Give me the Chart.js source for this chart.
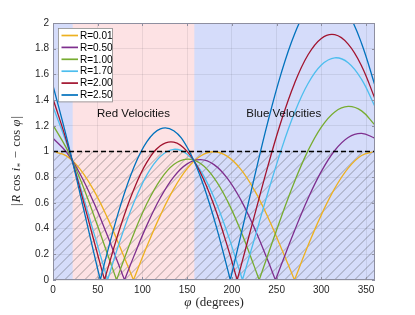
<!DOCTYPE html>
<html>
<head>
<meta charset="utf-8">
<script src="https://cdn.jsdelivr.net/npm/chart.js@4.4.0/dist/chart.umd.min.js"></script>
<style>
  html, body { margin: 0; padding: 0; background: #fff; }
  #wrap { width: 415px; height: 315px; position: relative; }
</style>
</head>
<body>
<div id="wrap"><canvas id="chart" width="415" height="315"></canvas></div>
<script>
const phi = [0, 15, 30, 45, 60, 75, 90, 105, 120, 135, 150, 165, 180,
             195, 210, 225, 240, 255, 270, 285, 300, 315, 330, 345, 360];

const seriesLabels = ['R=0.01', 'R=0.50', 'R=1.00', 'R=1.70', 'R=2.00', 'R=2.50'];
const seriesColors = ['#EDB120', '#7E2F8E', '#77AC30', '#4DBEEE', '#A2142F', '#0072BD'];

// |R cos i - cos phi| at the angles above
const yR001 = [1.000, 0.966, 0.865, 0.705, 0.497, 0.255, 0.000, 0.262, 0.503, 0.709, 0.867, 0.965, 0.998,
               0.962, 0.861, 0.701, 0.493, 0.251, 0.000, 0.266, 0.507, 0.713, 0.871, 0.969, 1.000];
const yR050 = [1.103, 0.996, 0.829, 0.612, 0.360, 0.091, 0.178, 0.427, 0.640, 0.803, 0.904, 0.936, 0.898,
               0.791, 0.624, 0.407, 0.155, 0.114, 0.383, 0.632, 0.845, 1.008, 1.109, 1.141, 1.103];
const yR100 = [1.205, 1.026, 0.791, 0.516, 0.220, 0.077, 0.355, 0.595, 0.780, 0.898, 0.941, 0.906, 0.795,
               0.616, 0.381, 0.106, 0.190, 0.487, 0.765, 1.005, 1.190, 1.308, 1.351, 1.316, 1.205];
const yR170 = [1.349, 1.068, 0.739, 0.382, 0.024, 0.307, 0.595, 0.818, 0.961, 1.017, 0.979, 0.851, 0.642,
               0.365, 0.041, 0.315, 0.673, 1.009, 1.301, 1.527, 1.673, 1.729, 1.691, 1.561, 1.349];
const yR200 = [1.410, 1.086, 0.716, 0.325, 0.059, 0.407, 0.699, 0.917, 1.044, 1.073, 1.001, 0.833, 0.581,
               0.262, 0.104, 0.495, 0.880, 1.233, 1.530, 1.751, 1.880, 1.909, 1.836, 1.666, 1.410];
const yR250 = [1.513, 1.116, 0.679, 0.230, 0.196, 0.569, 0.870, 1.077, 1.176, 1.161, 1.033, 0.800, 0.478,
               0.089, 0.347, 0.795, 1.225, 1.606, 1.913, 2.124, 2.225, 2.210, 2.079, 1.841, 1.513];

// where each curve touches zero (the sharp V points)
const zR001 = [90, 270];
const zR050 = [80.0, 248.7];
const zR100 = [71.1, 230.5];
const zR170 = [61.0, 211.8];
const zR200 = [57.6, 205.9];
const zR250 = [52.9, 198.2];

const xTicks = [0, 50, 100, 150, 200, 250, 300, 350];
const yTicks = [0, 0.2, 0.4, 0.6, 0.8, 1, 1.2, 1.4, 1.6, 1.8, 2];

const redBand = [22, 158];      // red velocities region
const refLevel = 1;             // dashed line / top of hatch
const bandLabels = ['Red Velocities', 'Blue Velocities'];
const bandLabelPhi = [90, 258];
const bandLabelLevel = 1.29;

const sans = '"Liberation Sans", Arial, Helvetica, sans-serif';
const serif = '"Liberation Serif", "Times New Roman", serif';

// split each curve at its zeros so the V stays sharp
function buildSeries(values, zeros) {
    const pts = phi.map((x, i) => ({ x: x, y: values[i] }))
        .filter(p => !zeros.includes(p.x));
    zeros.forEach(z => pts.push({ x: z, y: 0, zero: true }));
    pts.sort((a, b) => a.x - b.x);
    const out = [];
    pts.forEach(p => {
        out.push({ x: p.x, y: p.y });
        if (p.zero) {
            out.push({ x: p.x, y: null });
            out.push({ x: p.x, y: 0 });
        }
    });
    return out;
}

const allValues = [yR001, yR050, yR100, yR170, yR200, yR250];
const allZeros = [zR001, zR050, zR100, zR170, zR200, zR250];

const datasets = allValues.map((vals, i) => ({
    label: seriesLabels[i],
    data: buildSeries(vals, allZeros[i]),
    borderColor: seriesColors[i],
    borderWidth: 1.3,
    pointRadius: 0,
    tension: 0.4,
    fill: false,
    order: allValues.length - i,
}));

datasets.push({
    label: 'ref',
    data: [{ x: 0, y: refLevel }, { x: 360, y: refLevel }],
    borderColor: '#000',
    borderWidth: 1.4,
    borderDash: [5, 3],
    pointRadius: 0,
    order: 0,
});

// background bands
const bandsPlugin = {
    id: 'bands',
    beforeDraw(chart) {
        const { ctx, chartArea: a, scales: { x } } = chart;
        ctx.save();
        ctx.fillStyle = 'rgb(213, 220, 250)';
        ctx.fillRect(a.left, a.top, a.right - a.left, a.bottom - a.top);
        const x0 = x.getPixelForValue(redBand[0]);
        const x1 = x.getPixelForValue(redBand[1]);
        ctx.fillStyle = 'rgb(253, 226, 228)';
        ctx.fillRect(x0, a.top, x1 - x0, a.bottom - a.top);
        ctx.restore();
    }
};

// diagonal hatch under y = 1
const hatchPlugin = {
    id: 'hatch',
    beforeDatasetsDraw(chart) {
        const { ctx, scales: { x, y } } = chart;
        const left = x.getPixelForValue(0), right = x.getPixelForValue(360);
        const top = y.getPixelForValue(refLevel), bottom = y.getPixelForValue(0);
        const h = bottom - top;
        ctx.save();
        ctx.beginPath();
        ctx.rect(left, top, right - left, h);
        ctx.clip();
        ctx.strokeStyle = 'rgba(60, 60, 60, 0.7)';
        ctx.lineWidth = 0.6;
        ctx.beginPath();
        for (let sx = left - h; sx < right; sx += 10) {
            ctx.moveTo(sx, bottom);
            ctx.lineTo(sx + h, top);
        }
        ctx.stroke();

        ctx.restore();
    }
};

function measure(ctx, pieces) {
    let w = 0;
    pieces.forEach(p => {
        ctx.font = p.font;
        p.w = ctx.measureText(p.t).width;
        w += p.w + (p.gap || 0);
    });
    return w;
}

function drawPieces(ctx, pieces, x0, base) {
    let xx = x0;
    pieces.forEach(p => {
        ctx.font = p.font;
        ctx.fillText(p.t, xx, base + (p.dy || 0));
        xx += p.w + (p.gap || 0);
    });
}

// frame, inward ticks, texts, legend
const decorPlugin = {
    id: 'decor',
    afterDraw(chart) {
        const { ctx, chartArea: a, scales: { x, y } } = chart;
        ctx.save();

        // box + inward ticks
        ctx.strokeStyle = '#8e8fa0';
        ctx.lineWidth = 1;
        ctx.strokeRect(a.left + 0.5, a.top + 0.5, a.right - a.left - 1, a.bottom - a.top - 1);
        ctx.beginPath();
        xTicks.forEach(v => {
            const px = Math.round(x.getPixelForValue(v)) + 0.5;
            ctx.moveTo(px, a.bottom); ctx.lineTo(px, a.bottom - 3);
            ctx.moveTo(px, a.top); ctx.lineTo(px, a.top + 3);
        });
        yTicks.forEach(v => {
            const py = Math.round(y.getPixelForValue(v)) + 0.5;
            ctx.moveTo(a.left, py); ctx.lineTo(a.left + 3, py);
            ctx.moveTo(a.right, py); ctx.lineTo(a.right - 3, py);
        });
        ctx.stroke();

        // region labels
        ctx.fillStyle = '#111';
        ctx.font = '11.5px ' + sans;
        ctx.textAlign = 'center';
        ctx.textBaseline = 'middle';
        bandLabels.forEach((t, i) => {
            ctx.fillText(t, x.getPixelForValue(bandLabelPhi[i]), y.getPixelForValue(bandLabelLevel));
        });

        // axis titles
        ctx.textAlign = 'left';
        ctx.textBaseline = 'alphabetic';
        ctx.fillStyle = '#262626';
        const fs = 12.5;
        const up = fs + 'px ' + serif;
        const it = 'italic ' + fs + 'px ' + serif;
        const yTitle = [
            { t: '|', font: up, gap: 1 },
            { t: 'R', font: it, gap: 3.5 },
            { t: 'cos', font: up, gap: 3.5 },
            { t: 'i', font: it, gap: 0.5 },
            { t: '*', font: '9px ' + serif, dy: 3, gap: 4.5 },
            { t: '\u2212', font: up, gap: 4.5 },
            { t: 'cos', font: up, gap: 3.5 },
            { t: '\u03c6', font: it, gap: 1 },
            { t: '|', font: up },
        ];
        const wy = measure(ctx, yTitle);
        ctx.save();
        ctx.translate(16, 161);
        ctx.rotate(-Math.PI / 2);
        drawPieces(ctx, yTitle, -wy / 2, 4);
        ctx.restore();

        const xTitle = [
            { t: '\u03c6', font: 'italic 13px ' + serif, gap: 4 },
            { t: '(degrees)', font: '13px ' + serif },
        ];
        const wx = measure(ctx, xTitle);
        drawPieces(ctx, xTitle, (a.left + a.right) / 2 - wx / 2, 306);

        // legend
        const lx = a.left + 5, ly = a.top + 5, lw = 54, rowH = 11.9;
        const lh = rowH * seriesLabels.length + 2;
        ctx.fillStyle = '#fff';
        ctx.fillRect(lx, ly, lw, lh);
        ctx.strokeStyle = '#8a8a8a';
        ctx.lineWidth = 0.8;
        ctx.strokeRect(lx + 0.5, ly + 0.5, lw, lh);
        ctx.font = '10px ' + sans;
        ctx.textBaseline = 'middle';
        seriesLabels.forEach((t, i) => {
            const cy = ly + 7.5 + i * rowH;
            ctx.strokeStyle = seriesColors[i];
            ctx.lineWidth = 1.7;
            ctx.beginPath();
            ctx.moveTo(lx + 3.5, cy);
            ctx.lineTo(lx + 20, cy);
            ctx.stroke();
            ctx.fillStyle = '#000';
            ctx.fillText(t, lx + 22, cy + 0.5);
        });

        ctx.restore();
    }
};

const tickLabel = v => String(Math.round(v * 10) / 10);

new Chart(document.getElementById('chart').getContext('2d'), {
    type: 'line',
    data: { datasets },
    options: {
        responsive: false,
        animation: false,
        layout: { padding: { left: 0, top: 23, right: 40, bottom: 0 } },
        plugins: {
            legend: { display: false },
            tooltip: { enabled: false },
        },
        scales: {
            x: {
                type: 'linear',
                min: 0,
                max: 360,
                afterBuildTicks: s => { s.ticks = xTicks.map(v => ({ value: v })); },
                afterFit: s => { s.height = 35; },
                ticks: { font: { family: sans, size: 10 }, color: '#262626', padding: 4, maxRotation: 0, autoSkip: false, callback: tickLabel },
                grid: { color: 'rgba(40, 40, 60, 0.09)', drawTicks: false },
                border: { display: false },
            },
            y: {
                min: 0,
                max: 2,
                afterBuildTicks: s => { s.ticks = yTicks.map(v => ({ value: v })); },
                afterFit: s => { s.width = 53; },
                ticks: { font: { family: sans, size: 10 }, color: '#262626', padding: 4, callback: tickLabel },
                grid: { color: 'rgba(40, 40, 60, 0.09)', drawTicks: false },
                border: { display: false },
            }
        }
    },
    plugins: [bandsPlugin, hatchPlugin, decorPlugin]
});
</script>
</body>
</html>
